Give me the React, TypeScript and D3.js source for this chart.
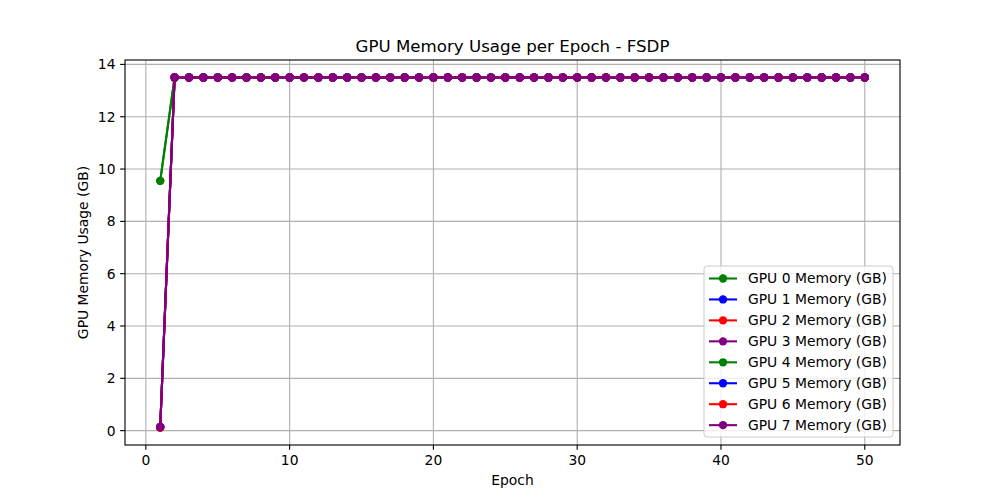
import * as d3 from 'd3';

// Data
const epochs = [
  1, 2, 3, 4, 5, 6, 7, 8, 9, 10, 11, 12, 13, 14, 15, 16, 17, 18, 19, 20, 21, 22, 23, 24, 25,
  26, 27, 28, 29, 30, 31, 32, 33, 34, 35, 36, 37, 38, 39, 40, 41, 42, 43, 44, 45, 46, 47, 48, 49, 50,
];

const gpu0 = [
  9.55, 13.5, 13.5, 13.5, 13.5, 13.5, 13.5, 13.5, 13.5, 13.5, 13.5, 13.5, 13.5, 13.5, 13.5, 13.5, 13.5,
  13.5, 13.5, 13.5, 13.5, 13.5, 13.5, 13.5, 13.5, 13.5, 13.5, 13.5, 13.5, 13.5, 13.5, 13.5, 13.5, 13.5,
  13.5, 13.5, 13.5, 13.5, 13.5, 13.5, 13.5, 13.5, 13.5, 13.5, 13.5, 13.5, 13.5, 13.5, 13.5, 13.5,
];
const gpu1 = [
  0.14, 13.5, 13.5, 13.5, 13.5, 13.5, 13.5, 13.5, 13.5, 13.5, 13.5, 13.5, 13.5, 13.5, 13.5, 13.5, 13.5,
  13.5, 13.5, 13.5, 13.5, 13.5, 13.5, 13.5, 13.5, 13.5, 13.5, 13.5, 13.5, 13.5, 13.5, 13.5, 13.5, 13.5,
  13.5, 13.5, 13.5, 13.5, 13.5, 13.5, 13.5, 13.5, 13.5, 13.5, 13.5, 13.5, 13.5, 13.5, 13.5, 13.5,
];
const gpu2 = [
  0.12, 13.5, 13.5, 13.5, 13.5, 13.5, 13.5, 13.5, 13.5, 13.5, 13.5, 13.5, 13.5, 13.5, 13.5, 13.5, 13.5,
  13.5, 13.5, 13.5, 13.5, 13.5, 13.5, 13.5, 13.5, 13.5, 13.5, 13.5, 13.5, 13.5, 13.5, 13.5, 13.5, 13.5,
  13.5, 13.5, 13.5, 13.5, 13.5, 13.5, 13.5, 13.5, 13.5, 13.5, 13.5, 13.5, 13.5, 13.5, 13.5, 13.5,
];
const gpu3 = [
  0.14, 13.5, 13.5, 13.5, 13.5, 13.5, 13.5, 13.5, 13.5, 13.5, 13.5, 13.5, 13.5, 13.5, 13.5, 13.5, 13.5,
  13.5, 13.5, 13.5, 13.5, 13.5, 13.5, 13.5, 13.5, 13.5, 13.5, 13.5, 13.5, 13.5, 13.5, 13.5, 13.5, 13.5,
  13.5, 13.5, 13.5, 13.5, 13.5, 13.5, 13.5, 13.5, 13.5, 13.5, 13.5, 13.5, 13.5, 13.5, 13.5, 13.5,
];
const gpu4 = [
  9.55, 13.5, 13.5, 13.5, 13.5, 13.5, 13.5, 13.5, 13.5, 13.5, 13.5, 13.5, 13.5, 13.5, 13.5, 13.5, 13.5,
  13.5, 13.5, 13.5, 13.5, 13.5, 13.5, 13.5, 13.5, 13.5, 13.5, 13.5, 13.5, 13.5, 13.5, 13.5, 13.5, 13.5,
  13.5, 13.5, 13.5, 13.5, 13.5, 13.5, 13.5, 13.5, 13.5, 13.5, 13.5, 13.5, 13.5, 13.5, 13.5, 13.5,
];
const gpu5 = [
  0.14, 13.5, 13.5, 13.5, 13.5, 13.5, 13.5, 13.5, 13.5, 13.5, 13.5, 13.5, 13.5, 13.5, 13.5, 13.5, 13.5,
  13.5, 13.5, 13.5, 13.5, 13.5, 13.5, 13.5, 13.5, 13.5, 13.5, 13.5, 13.5, 13.5, 13.5, 13.5, 13.5, 13.5,
  13.5, 13.5, 13.5, 13.5, 13.5, 13.5, 13.5, 13.5, 13.5, 13.5, 13.5, 13.5, 13.5, 13.5, 13.5, 13.5,
];
const gpu6 = [
  0.12, 13.5, 13.5, 13.5, 13.5, 13.5, 13.5, 13.5, 13.5, 13.5, 13.5, 13.5, 13.5, 13.5, 13.5, 13.5, 13.5,
  13.5, 13.5, 13.5, 13.5, 13.5, 13.5, 13.5, 13.5, 13.5, 13.5, 13.5, 13.5, 13.5, 13.5, 13.5, 13.5, 13.5,
  13.5, 13.5, 13.5, 13.5, 13.5, 13.5, 13.5, 13.5, 13.5, 13.5, 13.5, 13.5, 13.5, 13.5, 13.5, 13.5,
];
const gpu7 = [
  0.14, 13.5, 13.5, 13.5, 13.5, 13.5, 13.5, 13.5, 13.5, 13.5, 13.5, 13.5, 13.5, 13.5, 13.5, 13.5, 13.5,
  13.5, 13.5, 13.5, 13.5, 13.5, 13.5, 13.5, 13.5, 13.5, 13.5, 13.5, 13.5, 13.5, 13.5, 13.5, 13.5, 13.5,
  13.5, 13.5, 13.5, 13.5, 13.5, 13.5, 13.5, 13.5, 13.5, 13.5, 13.5, 13.5, 13.5, 13.5, 13.5, 13.5,
];

const seriesNames = [
  'GPU 0 Memory (GB)', 'GPU 1 Memory (GB)', 'GPU 2 Memory (GB)', 'GPU 3 Memory (GB)',
  'GPU 4 Memory (GB)', 'GPU 5 Memory (GB)', 'GPU 6 Memory (GB)', 'GPU 7 Memory (GB)',
];
const seriesValues = [gpu0, gpu1, gpu2, gpu3, gpu4, gpu5, gpu6, gpu7];
const seriesColors = ['green', 'blue', 'red', 'purple', 'green', 'blue', 'red', 'purple'];

const xTicks = [0, 10, 20, 30, 40, 50];
const yTicks = [0, 2, 4, 6, 8, 10, 12, 14];

const WIDTH = 1000;
const HEIGHT = 500;
const FONT = 'DejaVu Sans, sans-serif';
const PT = 100 / 72; // matplotlib at dpi 100

export default function App() {
  const left = 125;
  const right = 900;
  const top = 60;
  const bottom = 445;

  // matplotlib-style 5% margins
  const allVals = seriesValues.flat();
  const [xMin, xMax] = d3.extent(epochs) as [number, number];
  const [yMin, yMax] = d3.extent(allVals) as [number, number];
  const xPad = (xMax - xMin) * 0.05;
  const yPad = (yMax - yMin) * 0.05;

  const x = d3.scaleLinear().domain([xMin - xPad, xMax + xPad]).range([left, right]);
  const y = d3.scaleLinear().domain([yMin - yPad, yMax + yPad]).range([bottom, top]);

  const line = d3.line<number>()
    .x((_, i) => x(epochs[i]))
    .y(d => y(d));

  const fs = 10 * PT;
  const lw = 1.5 * PT;
  const mr = 3 * PT;

  // Legend layout
  const legW = 189;
  const rowH = 20.95;
  const legH = 171;
  const legX = right - 7 - legW;
  const legY = bottom - 8 - legH;

  return (
    <svg width={WIDTH} height={HEIGHT} style={{ display: 'block', position: 'absolute', left: 0, top: 0 }}>
      <rect width={WIDTH} height={HEIGHT} fill="#fff" />

      {/* grid */}
      <g stroke="#b0b0b0" strokeWidth={0.8 * PT}>
        {xTicks.map(t => (
          <line key={'gx' + t} x1={x(t)} x2={x(t)} y1={top} y2={bottom} />
        ))}
        {yTicks.map(t => (
          <line key={'gy' + t} x1={left} x2={right} y1={y(t)} y2={y(t)} />
        ))}
      </g>

      {/* series */}
      {seriesValues.map((vals, si) => (
        <g key={seriesNames[si]}>
          <path d={line(vals) ?? ''} fill="none" stroke={seriesColors[si]} strokeWidth={lw} strokeLinejoin="round" />
          {vals.map((v, i) => (
            <circle key={i} cx={x(epochs[i])} cy={y(v)} r={mr} fill={seriesColors[si]} />
          ))}
        </g>
      ))}

      {/* frame */}
      <rect x={left} y={top} width={right - left} height={bottom - top} fill="none" stroke="#000" strokeWidth={0.8 * PT} />

      {/* x ticks */}
      {xTicks.map(t => (
        <g key={'xt' + t} transform={`translate(${x(t)},${bottom})`}>
          <line y1={0} y2={3.5 * PT} stroke="#000" strokeWidth={0.8 * PT} />
          <text y={19.5} textAnchor="middle" fontFamily={FONT} fontSize={fs} fill="#000">{t}</text>
        </g>
      ))}

      {/* y ticks */}
      {yTicks.map(t => (
        <g key={'yt' + t} transform={`translate(${left},${y(t)})`}>
          <line x1={0} x2={-3.5 * PT} stroke="#000" strokeWidth={0.8 * PT} />
          <text x={-9.5} dy="0.35em" textAnchor="end" fontFamily={FONT} fontSize={fs} fill="#000">{t}</text>
        </g>
      ))}

      {/* labels */}
      <text x={(left + right) / 2} y={52} textAnchor="middle" fontFamily={FONT} fontSize={12 * PT} fill="#000">
        GPU Memory Usage per Epoch - FSDP
      </text>
      <text x={(left + right) / 2} y={485} textAnchor="middle" fontFamily={FONT} fontSize={fs} fill="#000">
        Epoch
      </text>
      <text
        transform={`translate(88,${(top + bottom) / 2}) rotate(-90)`}
        textAnchor="middle"
        fontFamily={FONT}
        fontSize={fs}
        fill="#000"
      >
        GPU Memory Usage (GB)
      </text>

      {/* legend */}
      <g transform={`translate(${legX},${legY})`}>
        <rect width={legW} height={legH} rx={3} fill="#fff" fillOpacity={0.8} stroke="#cccccc" strokeWidth={1} />
        {seriesNames.map((name, i) => {
          const cy = 12.5 + i * rowH;
          return (
            <g key={name} transform={`translate(0,${cy})`}>
              <line x1={5} x2={33} stroke={seriesColors[i]} strokeWidth={lw} />
              <circle cx={19} r={mr} fill={seriesColors[i]} />
              <text x={44} dy="0.35em" fontFamily={FONT} fontSize={fs} fill="#000">{name}</text>
            </g>
          );
        })}
      </g>
    </svg>
  );
}
